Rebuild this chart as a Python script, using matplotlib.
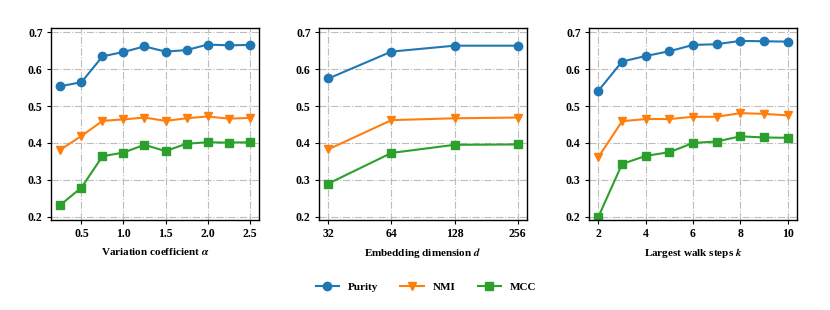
import matplotlib
matplotlib.use("Agg")
import matplotlib.pyplot as plt
import numpy as np

plt.rcParams['font.family'] = ['Liberation Serif', 'DejaVu Serif']
plt.rcParams['font.weight'] = 'bold'
plt.rcParams['mathtext.fontset'] = 'stix'

# Panel 1: variation coefficient alpha
alpha_x = [0.25, 0.5, 0.75, 1.0, 1.25, 1.5, 1.75, 2.0, 2.25, 2.5]
alpha_purity = [0.554, 0.565, 0.635, 0.647, 0.662, 0.648, 0.652, 0.667, 0.665, 0.666]
alpha_nmi = [0.382, 0.419, 0.460, 0.464, 0.469, 0.460, 0.467, 0.472, 0.466, 0.468]
alpha_mcc = [0.232, 0.279, 0.364, 0.374, 0.395, 0.378, 0.398, 0.402, 0.401, 0.402]
alpha_ticks = [0.5, 1.0, 1.5, 2.0, 2.5]

# Panel 2: embedding dimension d
dim_x = [32, 64, 128, 256]
dim_purity = [0.575, 0.648, 0.664, 0.664]
dim_nmi = [0.383, 0.462, 0.467, 0.469]
dim_mcc = [0.290, 0.373, 0.395, 0.396]

# Panel 3: largest walk steps k
k_x = [2, 3, 4, 5, 6, 7, 8, 9, 10]
k_purity = [0.542, 0.621, 0.636, 0.649, 0.666, 0.668, 0.677, 0.676, 0.675]
k_nmi = [0.362, 0.459, 0.465, 0.465, 0.471, 0.471, 0.481, 0.479, 0.475]
k_mcc = [0.200, 0.343, 0.365, 0.375, 0.400, 0.404, 0.418, 0.415, 0.414]
k_ticks = [2, 4, 6, 8, 10]

series_names = ['Purity', 'NMI', 'MCC']
colors = ['#1f77b4', '#ff7f0e', '#2ca02c']
markers = ['o', 'v', 's']
yticks = [0.2, 0.3, 0.4, 0.5, 0.6, 0.7]

fig = plt.figure(figsize=(8.3, 3.1), dpi=100)
W, H = 830, 310
lefts = [51, 319, 589]
aw = 208
top, bottom = 28, 220
axes = [fig.add_axes([l / W, 1 - bottom / H, aw / W, (bottom - top) / H]) for l in lefts]

panels = [
    (alpha_x, [alpha_purity, alpha_nmi, alpha_mcc], r'Variation coefficient $\alpha$', alpha_ticks, None),
    (dim_x, [dim_purity, dim_nmi, dim_mcc], r'Embedding dimension $d$', dim_x, 'log'),
    (k_x, [k_purity, k_nmi, k_mcc], r'Largest walk steps $k$', k_ticks, None),
]

handles = []
for ax, (xs, ys, xlabel, xt, scale) in zip(axes, panels):
    if scale == 'log':
        ax.set_xscale('log', base=2)
    for y, c, m, name in zip(ys, colors, markers, series_names):
        h, = ax.plot(xs, y, color=c, marker=m, markersize=6, linewidth=1.5, label=name)
        if ax is axes[0]:
            handles.append(h)
    ax.set_xticks(xt)
    ax.set_xticklabels([str(t) for t in xt])
    ax.minorticks_off()
    ax.set_yticks(yticks)
    ax.set_yticklabels([f'{v:.1f}' for v in yticks])
    ax.set_ylim(0.191, 0.712)
    ax.grid(True, linestyle='-.', color='#bdbdbd', linewidth=0.8)
    ax.set_axisbelow(True)
    ax.tick_params(labelsize=8.5, direction='out', length=3, width=0.8, pad=3)
    for lab in ax.get_xticklabels() + ax.get_yticklabels():
        lab.set_fontweight('bold')
    ax.set_xlabel(xlabel, fontsize=8, fontweight='bold', labelpad=4)
    for s in ax.spines.values():
        s.set_linewidth(1.0)

fig.legend(handles, series_names, loc='center', bbox_to_anchor=(426 / W, 1 - 287 / H),
           ncol=3, frameon=False, prop={'weight': 'bold', 'size': 8},
           handlelength=2.1, handletextpad=0.8, columnspacing=2.0)

fig.savefig('out.png', dpi=100)
